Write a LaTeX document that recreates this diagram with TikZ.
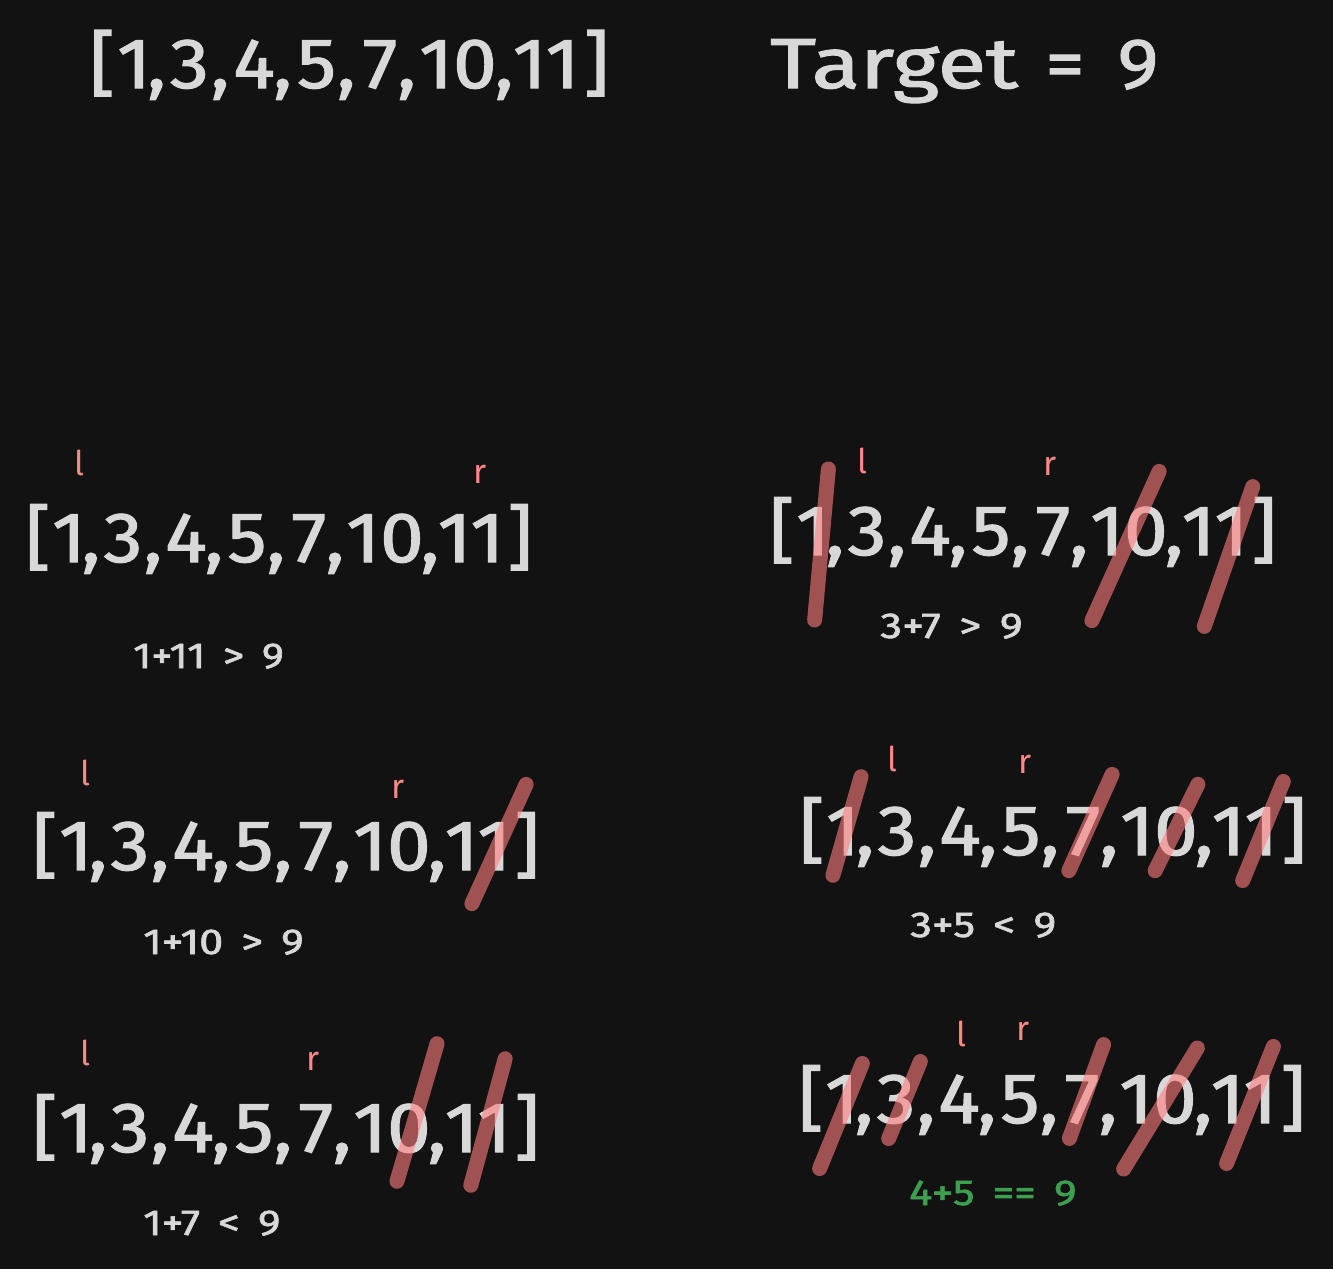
\documentclass[tikz,border=0pt]{standalone}
\usepackage{fontspec}
\setmainfont{Fira Sans}
\newfontfamily\handfont{Fira Sans}[FakeBold=1.6]
\usepackage{graphicx}
\definecolor{bg}{RGB}{18,18,18}
\definecolor{txt}{RGB}{216,216,216}
\definecolor{ptr}{RGB}{255,135,135}
\definecolor{strike}{RGB}{255,125,125}
\definecolor{okgreen}{RGB}{60,160,80}
\newcommand{\arrfont}{\handfont\fontsize{71}{71}\selectfont}
\newcommand{\numarr}[4]{%
  \foreach \o/\c [count=\i] in {13/{[},44/1,66/{,},98/3,128/{,},161/4,189/{,},222/5,251/{,},284/7,310/{,},360/10,405/{,},446/11,495/{]}}
    \node[arrch] (#1-\i) at (#2+#4*\o,#3) {\scalebox{1.1}[1]{\c}};%
}
\newcommand{\gap}{\hspace{0.42em}}
\tikzset{
  arrch/.style={anchor=base, inner sep=0pt, font=\arrfont, text=txt},
  ptrlbl/.style={anchor=base, inner sep=0pt, font=\fontsize{34}{34}\selectfont, text=ptr},
  expr/.style={anchor=base west, inner sep=0pt, font=\handfont\fontsize{36}{36}\selectfont, text=txt},
  strikeout/.style={draw=strike, opacity=0.6, line width=15pt, line cap=round, shorten >=7pt, shorten <=7pt},
}
\begin{document}
\begin{tikzpicture}[x=1pt,y=-1pt]
\fill[bg] (0,0) rectangle (1333,1269);
\useasboundingbox (0,0) rectangle (1333,1269);

% header
\numarr{top}{89}{88}{1.025}
\node[arrch, anchor=base west] (tgt) at (770,88) {\scalebox{1.25}[1]{Target}};
\node[arrch] (eq) at (1065,88) {\scalebox{1.1}[1]{=}};
\node[arrch] (nine) at (1138,88) {\scalebox{1.1}[1]{9}};

% row 1 left
\numarr{a}{25}{562}{1}
\node[ptrlbl] (al) at (79,475) {l};
\node[ptrlbl] (ar) at (480,483) {r};
\node[expr] (ae) at (133,668) {\scalebox{1.17}[1]{1+11\gap>\gap9}};

% row 1 right
\numarr{b}{769}{555}{1}
\node[ptrlbl] (bl) at (862,473) {l};
\node[ptrlbl] (br) at (1050,475) {r};
\node[expr] (be) at (880,638) {\scalebox{1.22}[1]{3+7\gap>\gap9}};
\draw[strikeout] (829,462) -- (814,627);
\draw[strikeout] (1162,465) -- (1089,627);
\draw[strikeout] (1255,480) -- (1202,633);

% row 2 left
\numarr{c}{32}{870}{1}
\node[ptrlbl] (cl) at (85,785) {l};
\node[ptrlbl] (cr) at (398,798) {r};
\node[expr] (ce) at (143,954) {\scalebox{1.2}[1]{1+10\gap>\gap9}};
\draw[strikeout] (529,778) -- (469,910);

% row 2 right
\numarr{d}{799}{855}{1}
\node[ptrlbl] (dl) at (892,771) {l};
\node[ptrlbl] (dr) at (1025,773) {r};
\node[expr] (de) at (910,937) {\scalebox{1.21}[1]{3+5\gap<\gap9}};
\draw[strikeout] (863,770) -- (831,882);
\draw[strikeout] (1115,768) -- (1066,877);
\draw[strikeout] (1201,778) -- (1152,877);
\draw[strikeout] (1286,775) -- (1240,887);

% row 3 left
\numarr{e}{32}{1152}{1}
\node[ptrlbl] (el) at (85,1065) {l};
\node[ptrlbl] (er) at (313,1070) {r};
\node[expr] (ee) at (143,1235) {\scalebox{1.2}[1]{1+7\gap<\gap9}};
\draw[strikeout] (439,1037) -- (395,1188);
\draw[strikeout] (507,1052) -- (469,1192);

% row 3 right
\numarr{f}{798}{1123}{1}
\node[ptrlbl] (fl) at (961,1046) {l};
\node[ptrlbl] (fr) at (1023,1040) {r};
\node[expr, text=okgreen] (fe) at (909,1205) {\scalebox{1.2}[1]{4+5\gap==\gap9}};
\draw[strikeout] (865,1057) -- (817,1175);
\draw[strikeout] (923,1055) -- (886,1145);
\draw[strikeout] (1106,1038) -- (1067,1145);
\draw[strikeout] (1201,1042) -- (1120,1175);
\draw[strikeout] (1276,1040) -- (1224,1170);
\end{tikzpicture}
\end{document}
